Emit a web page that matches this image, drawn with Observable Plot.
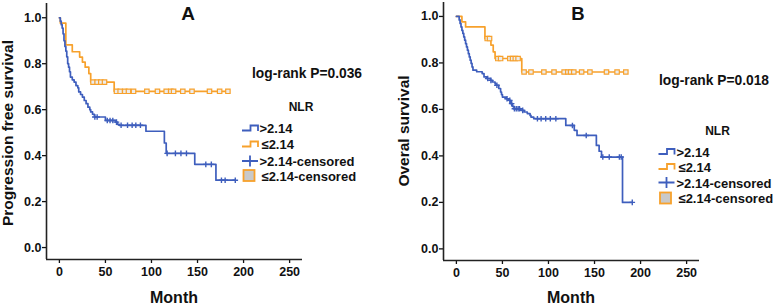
<!DOCTYPE html>
<html><head><meta charset="utf-8">
<script src="https://cdn.jsdelivr.net/npm/d3@7"></script>
<script src="https://cdn.jsdelivr.net/npm/@observablehq/plot@0.6"></script>
<style>
body{margin:0;background:#fff}
#wrap{position:relative;width:777px;height:305px;overflow:hidden;background:#fff;font-family:"Liberation Sans",Arial,sans-serif}
#wrap > svg{position:absolute;top:0}
</style></head><body><div id="wrap"></div>
<script>
// ---------- data ----------
const xTicks = [0, 50, 100, 150, 200, 250];
const yTicks = [0, 0.2, 0.4, 0.6, 0.8, 1.0];
const groups = [">2.14", "≤2.14", ">2.14-censored", "≤2.14-censored"];

// Panel A: progression free survival
const pfsHighTime = [0,1,2,3,4,5,6,7,8,9,10,11,12,14,16,18,20,21,23,25,27,29,31,33,34,36,38,50,61,63,65,94,114,116,147,170];
const pfsHighSurv = [1.0,0.985,0.97,0.955,0.93,0.90,0.875,0.855,0.83,0.80,0.785,0.765,0.742,0.73,0.72,0.705,0.695,0.677,0.666,0.655,0.640,0.626,0.611,0.60,0.59,0.58,0.568,0.553,0.546,0.536,0.532,0.506,0.455,0.41,0.362,0.293];
const pfsHighCensor = [38.5,41,52,55,58,62,67,74,79,83,88,117,126,132,138,159,165,176,180,191];
const pfsHighEnd = 191;
const pfsLowTime = [0,1,7,14,22,25,28,32,34,59.5];
const pfsLowSurv = [1.0,0.977,0.882,0.852,0.829,0.807,0.785,0.757,0.72,0.68];
const pfsLowCensor = [36.5,41,45,49,62,66,71,75,80.5,95,106.5,116,121,124,134,144,163,174,183];
const pfsLowEnd = 184;
const pfsPvalue = "log-rank P=0.036";

// Panel B: overall survival
const osHighTime = [0,3,4,5,6,7,8,9,10,11,12,13,14,15,16,17,18,22,28,30,33,37,39,42,43,46,48,49,50,54,57,59,61,62.6,70,73.5,77,80,81,84,118.8,128,131,152,155,157.6,180.4];
const osHighSurv = [1.0,0.985,0.97,0.955,0.94,0.927,0.912,0.898,0.883,0.869,0.855,0.84,0.826,0.812,0.798,0.783,0.769,0.762,0.754,0.74,0.733,0.725,0.718,0.711,0.704,0.69,0.675,0.664,0.653,0.646,0.639,0.625,0.613,0.603,0.596,0.589,0.582,0.574,0.567,0.56,0.531,0.51,0.488,0.445,0.42,0.395,0.2];
const osHighCensor = [34,37.5,44,55,58,60,63,65,67,68.5,72,88,92,97,102,108,126,141,159,166,177,179,191];
const osHighEnd = 191;
const osLowTime = [0,6,10,31,37.5,40,42,71];
const osLowSurv = [1.0,0.977,0.955,0.905,0.877,0.848,0.819,0.761];
const osLowCensor = [33.5,36,45,48,58,61,64,67,73.5,81,95,106,117,121,124,127.5,136,145,163,174.5,184];
const osLowEnd = 184;
const osPvalue = "log-rank P=0.018";

// ---------- helpers ----------
const BLUE = "#3e5ebd", ORANGE = "#f7a12c", FONT = "'Liberation Sans', Arial, sans-serif";
const xDomain = [-14, 264];
function stepRows(T, S, end) {
  const rows = T.map((t, i) => ({t, s: S[i]}));
  rows.push({t: end, s: S[S.length - 1]});
  return rows;
}
function censorRows(T, S, C) {
  return C.map(t => { let i = 0; while (i + 1 < T.length && T[i + 1] <= t) i++; return {t, s: S[i]}; });
}
const plusSymbol = {draw(ctx, size) { const r = Math.sqrt(size / Math.PI); ctx.moveTo(0, -r); ctx.lineTo(0, r); ctx.moveTo(-r, 0); ctx.lineTo(r, 0); }};

function panel(o) {
  const hi = stepRows(o.hiT, o.hiS, o.hiEnd), lo = stepRows(o.loT, o.loS, o.loEnd);
  const hiC = censorRows(o.hiT, o.hiS, o.hiC), loC = censorRows(o.loT, o.loS, o.loC);
  const svg = Plot.plot({
    width: o.width, height: 305,
    marginLeft: o.marginLeft, marginRight: 10, marginTop: o.marginTop, marginBottom: o.marginBottom,
    x: {domain: xDomain, label: null},
    y: {domain: o.yDomain, label: null},
    style: {fontFamily: FONT, fontSize: "12.5px", fontWeight: "bold", color: "#111", background: "transparent", overflow: "visible"},
    marks: [
      Plot.axisX({ticks: xTicks, tickSize: 4, tickPadding: 4, strokeWidth: 1.3, label: null, tickFormat: d => String(d)}),
      Plot.axisY({ticks: yTicks, tickSize: 4, tickPadding: 1, strokeWidth: 1.3, label: null, tickFormat: d3.format(".1f")}),
      Plot.ruleX([xDomain[0]], {stroke: "#222", strokeWidth: 1.6}),
      Plot.ruleY([o.yDomain[0]], {stroke: "#222", strokeWidth: 1.6}),
      Plot.line(lo, {x: "t", y: "s", curve: "step-after", stroke: ORANGE, strokeWidth: 1.7}),
      Plot.line(hi, {x: "t", y: "s", curve: "step-after", stroke: BLUE, strokeWidth: 1.7}),
      Plot.dot(loC, {x: "t", y: "s", symbol: "square", r: 2.5, stroke: ORANGE, fill: "#ececec", strokeWidth: 1.2}),
      Plot.dot(hiC, {x: "t", y: "s", symbol: plusSymbol, r: 2.8, stroke: BLUE, fill: "none", strokeWidth: 1.4})
    ]
  });
  svg.style.left = o.left + "px";
  return svg;
}

const wrap = document.getElementById("wrap");
wrap.appendChild(panel({left: 0, width: 312, marginLeft: 46, marginTop: 3, marginBottom: 46, yDomain: [-0.052, 1.062],
  hiT: pfsHighTime, hiS: pfsHighSurv, hiC: pfsHighCensor, hiEnd: pfsHighEnd,
  loT: pfsLowTime, loS: pfsLowSurv, loC: pfsLowCensor, loEnd: pfsLowEnd}));
wrap.appendChild(panel({left: 392, width: 317, marginLeft: 51, marginTop: 2, marginBottom: 45, yDomain: [-0.05, 1.06],
  hiT: osHighTime, hiS: osHighSurv, hiC: osHighCensor, hiEnd: osHighEnd,
  loT: osLowTime, loS: osLowSurv, loC: osLowCensor, loEnd: osLowEnd}));

// ---------- annotations: titles, axis titles, p-values, legends ----------
function legend(x, ys, sq) {
  const [y1, y2, y3] = ys;
  return `
  <path d="M${x},${y1+2} H${x+8.5} V${y1-3} H${x+16} V${y1+2.5}" fill="none" stroke="${BLUE}" stroke-width="1.8"/>
  <path d="M${x},${y2+2} H${x+8.5} V${y2-3} H${x+16} V${y2+2.5}" fill="none" stroke="${ORANGE}" stroke-width="1.8"/>
  <path d="M${x},${y3} H${x+16} M${x+8},${y3-5.5} V${y3+5.5}" fill="none" stroke="${BLUE}" stroke-width="1.8"/>
  <rect x="${sq[0]}" y="${sq[1]}" width="11" height="11" fill="#c9c9c9" stroke="${ORANGE}" stroke-width="1.8"/>`;
}
const ov = `<svg width="777" height="305" style="left:0" font-family="${FONT}" font-weight="bold" fill="#111">
  <text x="188" y="19.8" font-size="19" text-anchor="middle">A</text>
  <text x="578" y="19.6" font-size="18.5" text-anchor="middle">B</text>
  <text transform="translate(13,133) rotate(-90)" font-size="15.5" text-anchor="middle">Progression free survival</text>
  <text transform="translate(409,131) rotate(-90)" font-size="15.5" text-anchor="middle">Overal survival</text>
  <text x="174" y="302.5" font-size="16" text-anchor="middle">Month</text>
  <text x="571" y="302.5" font-size="16" text-anchor="middle">Month</text>
  <text x="252" y="77.5" font-size="13.8">${pfsPvalue}</text>
  <text x="659" y="84.5" font-size="13.8">${osPvalue}</text>
  <text x="301" y="111" font-size="12" text-anchor="middle">NLR</text>
  <text x="717.5" y="134.5" font-size="12" text-anchor="middle">NLR</text>
  ${legend(242, [128.5, 144.5, 161], [243.5, 170])}
  <text font-size="13"><tspan x="259.5" y="133.3">${groups[0]}</tspan><tspan x="261.5" y="149">${groups[1]}</tspan><tspan x="259.5" y="165.5">${groups[2]}</tspan><tspan x="261.5" y="181">${groups[3]}</tspan></text>
  ${legend(658.5, [152, 167, 182.5], [660, 192.5])}
  <text font-size="13"><tspan x="676.5" y="156.7">${groups[0]}</tspan><tspan x="678.5" y="171.5">${groups[1]}</tspan><tspan x="676.5" y="187.5">${groups[2]}</tspan><tspan x="678.5" y="203">${groups[3]}</tspan></text>
</svg>`;
wrap.insertAdjacentHTML("beforeend", ov);
</script></body></html>
